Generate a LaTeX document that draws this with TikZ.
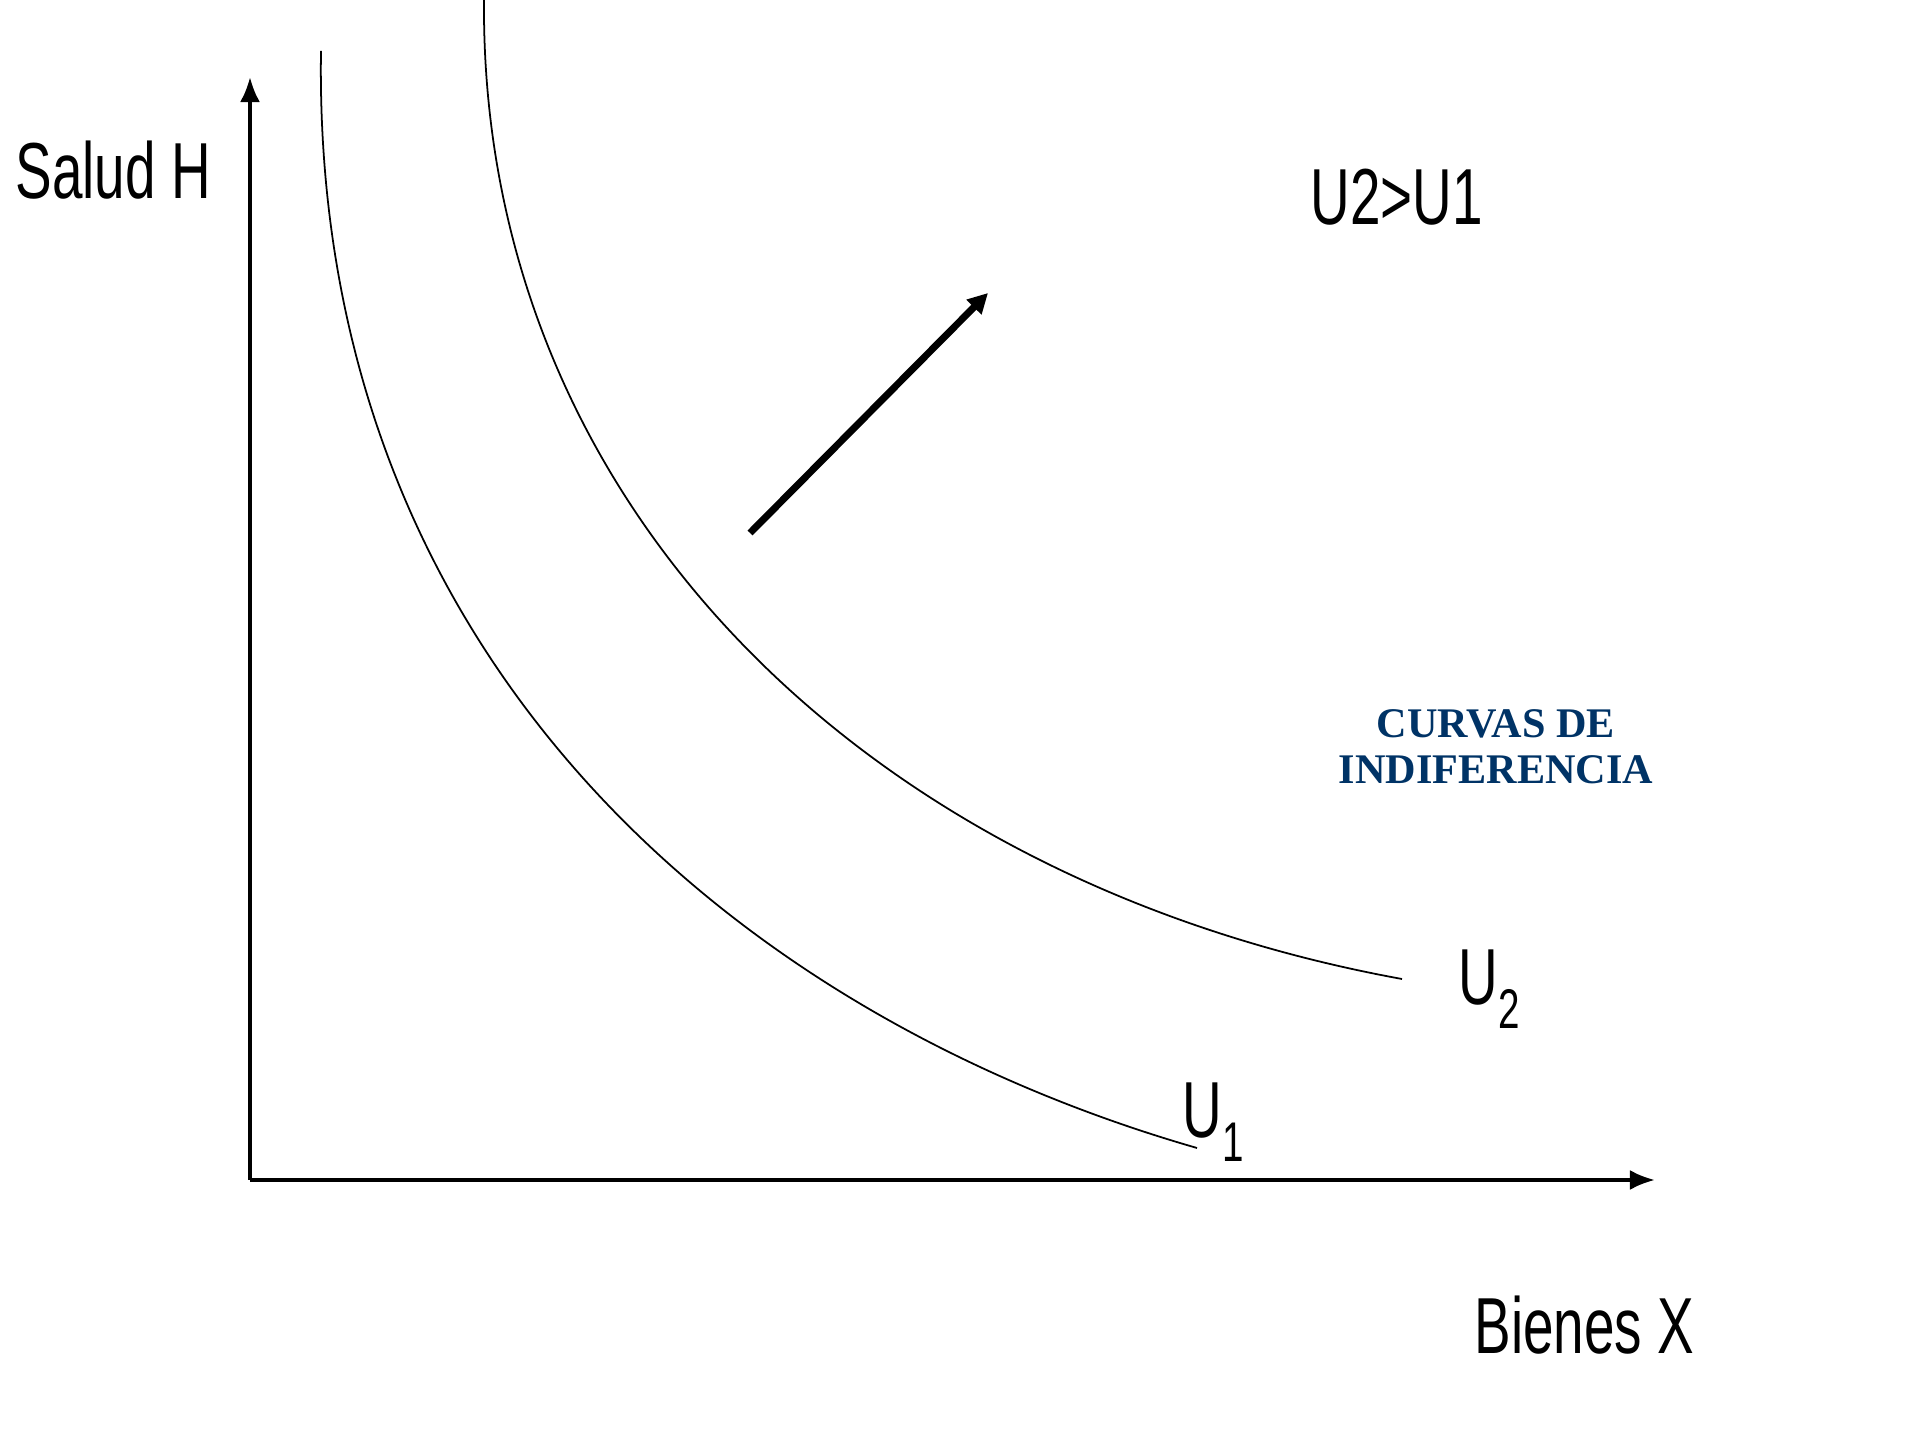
\documentclass[tikz,border=0pt]{standalone}
\usepackage{fontspec}
\newfontfamily\labelfont[FakeStretch=0.69]{Liberation Sans}
\newfontfamily\titlefont{Liberation Serif}
\usetikzlibrary{arrows.meta}
\definecolor{titleblue}{RGB}{0,51,102}
\newcommand{\lowsub}[1]{\raisebox{-0.23cm}{\fontsize{15.9}{18}\selectfont #1}}

\begin{document}
\begin{tikzpicture}[x=0.01cm, y=-0.01cm,
  lbl/.style={inner sep=0, anchor=base west, font=\labelfont\fontsize{22.6}{27}\selectfont},
  axis/.style={line width=1.1pt, -{Latex[length=0.25cm, width=0.2cm]}},
  curve/.style={line width=0.5pt}]
\useasboundingbox (0,0) rectangle (1920,1440);
% axes
\coordinate (o) at (250,1180);
\coordinate (ytop) at (250,77);
\coordinate (xend) at (1655,1180);
\draw[axis] (o) -- (ytop);
\draw[axis] (o) -- (xend);
% indifference curves
\draw[curve] (321,51) .. controls (312,650) and (725,1012) .. (1197,1148);
\draw[curve] (484,0) .. controls (480,500) and (860,880) .. (1402,979);
% direction of higher utility
\coordinate (from) at (750,533);
\coordinate (to) at (988,293);
\draw[line width=2pt, -{Triangle[length=0.2cm, width=0.2cm]}] (from) -- (to);
% labels
\node[lbl] (salud) at (15,199) {Salud H};
\node[lbl] (orden) at (1310,225) {U2>U1};
\node[lbl] (bienes) at (1474,1354) {Bienes X};
\node[lbl] (u2) at (1458,1005) {U\lowsub{2}};
\node[lbl] (u1) at (1182,1138) {U\lowsub{1}};
\node[font=\titlefont\bfseries\fontsize{12}{13}\selectfont, text=titleblue, align=center] (titulo) at (1496,747) {CURVAS DE\\INDIFERENCIA};
\end{tikzpicture}
\end{document}
